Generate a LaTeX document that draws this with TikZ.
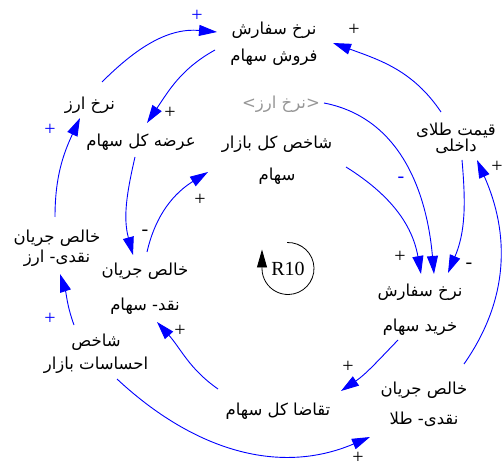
\documentclass[tikz,border=0pt]{standalone}
\usepackage{fontspec}
\setmainfont{Liberation Serif}
\newfontfamily\fa[Script=Arabic]{DejaVu Sans}
\TeXXeTstate=1
\usetikzlibrary{arrows.meta,calc}
\definecolor{shadowgray}{RGB}{150,150,150}
\begin{document}
\begin{tikzpicture}[x=1pt,y=1pt,
  vv/.style={align=center, inner sep=0pt, font={\fa\fontsize{16.5}{#1}\selectfont\lineskiplimit-50pt}},
  vv/.default=18,
  link/.style={draw=blue, line width=0.9pt, -{Triangle[length=18pt,width=11pt]}},
  pol/.style={font=\fontsize{20}{20}\selectfont, inner sep=0pt},
  loopmark/.style={font=\fontsize{20}{20}\selectfont, inner sep=0pt}]
\useasboundingbox (0,0) rectangle (502,468);
% variables
\node[vv=27] (sell) at (274,424) {\beginR نرخ سفارش\endR\\\beginR فروش سهام\endR};
\node[vv] (fx) at (90,363) {\beginR نرخ ارز\endR};
\node[vv] (supply) at (141,326) {\beginR عرضه کل سهام\endR};
\node[vv, text=shadowgray] (fxs) at (281,364) {\beginR<نرخ ارز>\endR};
\node[vv=32] (index) at (277,308) {\beginR شاخص کل بازار\endR\\\beginR سهام\endR};
\node[vv=16] (gold) at (456,330) {\beginR قیمت طلای\endR\\\beginR داخلی\endR};
\node[vv=20] (fxnet) at (57,220) {\beginR خالص جریان\endR\\\beginR نقدی- ارز\endR};
\node[vv=35] (stocknet) at (145,179) {\beginR خالص جریان\endR\\\beginR نقد- سهام\endR};
\node[vv=23] (sentiment) at (96,114) {\beginR شاخص\endR\\\beginR احساسات بازار\endR};
\node[vv=35] (buy) at (420,158) {\beginR نرخ سفارش\endR\\\beginR خرید سهام\endR};
\node[vv] (demand) at (278,57) {\beginR تقاضا کل سهام\endR};
\node[vv=30] (goldnet) at (424,64) {\beginR خالص جریان\endR\\\beginR نقدی- طلا\endR};
% loop
\node[loopmark] (r10) at (288,199.5) {R10};
\draw[line width=0.8pt, -{Triangle[length=18pt,width=10pt]}] ($(r10)+(92:26)$) arc[start angle=92, end angle=-180, radius=26] -- ++(0,19);
% links
\draw[link] ($(fx)+(12,23)$) to[out=45,in=175] ($(sell)+(-57,12)$);
\draw[link] ($(sell)+(-59,-6)$) to[out=209,in=56] ($(supply)+(6,19)$);
\draw[link] ($(gold)+(-15,26)$) to[out=124,in=-20] ($(sell)+(59,1)$);
\draw[link] ($(index)+(69,-7)$) to[out=-32,in=100] ($(buy)+(1,36)$);
\draw[link] ($(fxs)+(43,1)$) to[out=-11,in=95] ($(buy)+(14,36)$);
\draw[link] ($(gold)+(6,-22)$) to[out=-85,in=67] ($(buy)+(28,37)$);
\draw[link] ($(goldnet)+(40,40)$) to[out=55,in=-66] ($(gold)+(21,-22)$);
\draw[link] ($(buy)+(-22,-30)$) to[out=226,in=34] ($(demand)+(63,20)$);
\draw[link] ($(sentiment)+(21,-25)$) to[out=-43,in=203] ($(goldnet)+(-54,-33)$);
\draw[link] ($(demand)+(-60,22)$) to[out=145,in=-48] ($(stocknet)+(12,-33)$);
\draw[link] ($(sentiment)+(-22,29)$) to[out=110,in=-72] ($(fxnet)+(3,-26)$);
\draw[link] ($(fxnet)+(-2,31)$) to[out=90,in=245] ($(fx)+(-10,-13)$);
\draw[link] ($(supply)+(-6,-15)$) to[out=257,in=105] ($(stocknet)+(-12,34)$);
\draw[link] ($(stocknet)+(2,37)$) to[out=77,in=212] ($(index)+(-69,-12)$);
% polarities
\node[pol, text=blue] (p1) at (197,452) {+};
\node[pol] (p2) at (170,355) {+};
\node[pol] (p3) at (354,438) {+};
\node[pol, text=blue] (p4) at (401,288) {-};
\node[pol] (p5) at (400,211) {+};
\node[pol] (p6) at (469,202) {-};
\node[pol] (p7) at (497,301) {+};
\node[pol] (p8) at (348,101) {+};
\node[pol] (p9) at (358,10) {+};
\node[pol] (p10) at (180,137) {+};
\node[pol, text=blue] (p11) at (50,149) {+};
\node[pol, text=blue] (p12) at (50,338) {+};
\node[pol] (p13) at (145,235) {-};
\node[pol] (p14) at (200,268) {+};
\end{tikzpicture}
\end{document}
